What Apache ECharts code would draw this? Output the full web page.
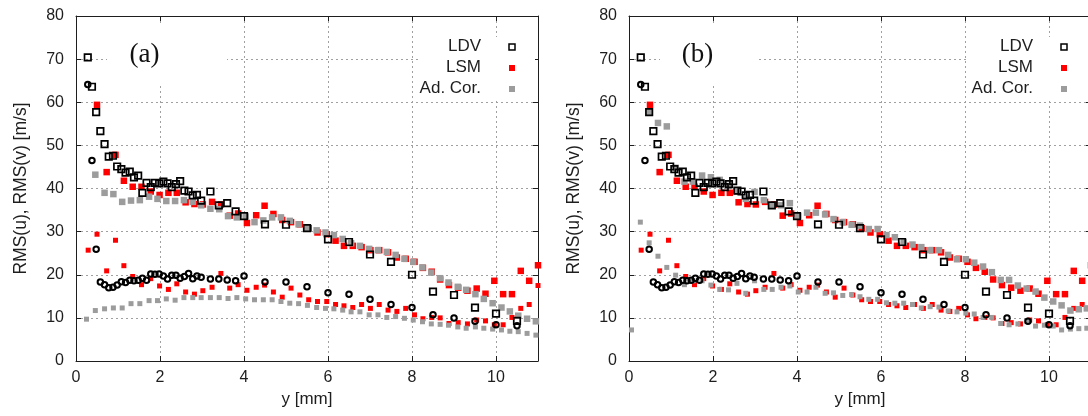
<!DOCTYPE html>
<html>
<head>
<meta charset="utf-8">
<script src="https://cdn.jsdelivr.net/npm/echarts@6/dist/echarts.min.js"></script>
<style>
html, body { margin: 0; padding: 0; background: #fff; }
#chart { width: 1088px; height: 416px; }
</style>
</head>
<body>
<div id="chart"></div>
<script>
// LDV positions y [mm] (same measurement in both panels)
const ldvY = [0.28, 0.38, 0.48, 0.58, 0.68, 0.78, 0.88, 0.98, 1.08, 1.18, 1.28, 1.38, 1.48, 1.58,
  1.68, 1.78, 1.88, 1.98, 2.08, 2.18, 2.28, 2.38, 2.48, 2.58, 2.68, 2.78, 2.88, 2.98,
  3.2, 3.4, 3.6, 3.8, 4.0, 4.5, 5.0, 5.5, 6.0, 6.5, 7.0, 7.5, 8.0, 8.5, 9.0, 9.5, 10.0, 10.5];
const ldvV = [70.4, 63.6, 57.7, 53.3, 50.3, 47.4, 47.6, 45.1, 44.5, 43.7, 43.9, 42.6, 43.0, 39.0,
  41.3, 40.3, 41.3, 41.2, 41.6, 41.2, 40.3, 41.0, 41.7, 39.5, 39.3, 38.4, 38.5, 37.2,
  39.3, 36.1, 36.6, 34.7, 33.6, 31.7, 31.6, 30.8, 28.2, 27.6, 24.7, 23.0, 20.0, 16.1, 15.3, 12.4, 11.0, 9.3];
const ldvU = [64.1, 46.5, 25.9, 18.3, 17.7, 17.0, 17.1, 17.6, 18.4, 18.2, 18.7, 18.6, 18.7, 19.2,
  18.7, 20.2, 20.1, 20.2, 19.7, 19.0, 19.9, 19.9, 19.2, 19.6, 20.3, 19.1, 19.7, 19.4,
  19.0, 19.0, 18.8, 18.6, 19.7, 18.3, 18.3, 17.2, 15.8, 15.5, 14.3, 13.1, 12.4, 10.7, 10.0, 9.2, 8.4, 8.2];

// LSM positions and values (same in both panels)
const lsmY = [0.29, 0.5, 0.73, 0.94, 1.14, 1.35, 1.56, 1.78, 1.99, 2.2, 2.4, 2.61, 2.82, 3.02, 3.24,
  3.45, 3.66, 3.86, 4.07, 4.29, 4.49, 4.7, 4.91, 5.12, 5.33, 5.54, 5.75, 5.97, 6.18, 6.38, 6.59,
  6.8, 7.01, 7.22, 7.43, 7.64, 7.85, 8.06, 8.26, 8.47, 8.67, 8.88, 9.1, 9.32, 9.54, 9.75, 9.96,
  10.17, 10.38, 10.59, 10.79, 11.0];
const lsmV = [null, 59.4, 43.8, 47.8, 41.8, 40.4, 40.4, 39.3, 38.5, 39.0, 39.0, 36.8, 36.4, 36.3, 36.9,
  36.3, 33.7, 34.2, 32.0, 33.8, 36.0, 34.1, 32.7, 32.2, 31.7, 30.8, 29.8, 29.4, 27.9, 26.7, 26.7,
  26.4, 25.7, 25.7, 25.2, 24.0, 23.7, 23.0, 21.6, 20.7, 18.9, 17.6, 17.0, 16.3, 16.8, 15.6, 18.6,
  15.5, 15.5, 20.9, 18.6, 22.2];
const lsmU = [25.7, 29.4, 20.9, 28.0, 22.1, 19.6, 17.7, 19.1, 17.4, 16.6, 17.9, 16.0, 15.5, 16.3, 17.1,
  20.3, 16.9, 17.7, 16.4, 17.1, 17.6, 16.0, 14.8, 16.9, 15.3, 14.2, 13.8, 13.8, 13.1, 12.8, 12.4,
  13.1, 12.2, 13.1, 11.8, 11.5, 12.2, 10.7, 9.8, 10.1, 10.0, 8.7, 8.9, 8.6, 9.5, 9.3, 8.4,
  8.4, 10.1, 12.2, 13.1, 17.5];

// Ad. Cor., panel (a)
const corAY = [0.25, 0.46, 0.68, 0.89, 1.1, 1.31, 1.52, 1.74, 1.94, 2.15, 2.36, 2.57, 2.78, 2.98, 3.2,
  3.41, 3.62, 3.83, 4.04, 4.25, 4.46, 4.67, 4.88, 5.09, 5.3, 5.51, 5.73, 5.94, 6.14, 6.35, 6.55,
  6.76, 6.98, 7.19, 7.4, 7.61, 7.82, 8.03, 8.25, 8.46, 8.67, 8.87, 9.09, 9.29, 9.51, 9.71, 9.92,
  10.13, 10.33, 10.53, 10.74, 10.95];
const corAV = [null, 43.2, 39.0, 38.7, 36.9, 37.2, 37.3, 38.1, 37.6, 37.1, 37.1, 37.3, 36.9, 36.1, 35.3,
  35.2, 33.6, 33.3, 33.5, 32.2, 32.6, 33.3, 33.3, 32.5, 31.7, 30.9, 30.3, 29.8, 29.2, 28.3, 27.3,
  26.7, 26.0, 25.7, 25.3, 24.6, 23.7, 23.0, 21.7, 20.5, 19.2, 18.2, 17.2, 16.5, 15.5, 14.4, 13.4,
  12.4, 11.5, 10.5, 9.8, 9.2];
const corAU = [9.7, 11.7, 12.1, 12.3, 12.3, 13.3, 13.3, 14.0, 14.0, 14.4, 14.1, 14.7, 14.7, 14.7, 14.7,
  14.7, 14.5, 14.7, 14.4, 14.2, 14.2, 14.2, 13.8, 13.4, 13.3, 12.9, 12.4, 12.2, 12.1, 11.8, 11.4,
  11.4, 10.7, 10.7, 10.1, 10.3, 9.9, 9.5, 9.1, 8.6, 8.5, 8.3, 7.9, 7.6, 7.9, 7.6, 7.4,
  7.2, 6.9, 6.8, 6.4, 6.0];

// Ad. Cor., panel (b)
const corBY = [0.06, 0.27, 0.48, 0.69, 0.9, 1.11, 1.32, 1.52, 1.74, 1.95, 2.16, 2.37, 2.57, 2.78, 2.99,
  3.21, 3.41, 3.62, 3.83, 4.03, 4.24, 4.45, 4.67, 4.87, 5.09, 5.3, 5.5, 5.71, 5.92, 6.13, 6.33,
  6.54, 6.75, 6.96, 7.17, 7.38, 7.6, 7.81, 8.02, 8.22, 8.43, 8.64, 8.85, 9.05, 9.26, 9.47, 9.68,
  9.89, 10.1, 10.3, 10.51, 10.71, 10.9];
const corBV = [null, null, 57.8, 55.2, 54.4, 44.8, 41.6, 41.6, 43.0, 42.6, 42.0, 40.6, 39.3, 37.6, 39.2,
  37.3, 36.1, 36.1, 36.6, 33.6, 34.4, 34.4, 34.0, 32.9, 32.2, 31.6, 31.4, 30.6, 30.6, 29.2, 28.7,
  27.6, 27.0, 26.4, 25.7, 25.7, 24.6, 23.6, 23.6, 22.8, 21.9, 20.6, 18.8, 18.8, 17.5, 16.8, 16.1,
  14.7, 13.8, 12.9, 11.7, 12.0, 12.2];
const corBU = [7.2, 32.2, 27.4, 24.3, 21.7, 19.9, 17.7, 18.6, 18.6, 17.6, 16.6, 16.5, 18.0, 15.7, 18.6,
  16.6, 16.6, 17.1, 17.4, 16.0, 16.0, 17.1, 15.7, 15.8, 15.2, 15.4, 14.9, 14.3, 14.3, 13.5, 13.4,
  13.4, 13.1, 12.3, 12.6, 12.5, 11.6, 11.4, 11.1, 10.9, 10.1, 10.1, 8.7, 8.4, 8.6, 9.2, 8.1,
  8.3, 8.1, 7.2, 7.4, 7.5, 7.6];

const legendNames = ['LDV', 'LSM', 'Ad. Cor.'];
const panelLabels = ['(a)', '(b)'];

const RED = '#ff0000';
const GRAY = '#9c9c9c';
const INK = '#1e1e1e';
const FONT = '"Liberation Sans", Arial, sans-serif';

function pairs(xs, ys) {
  const out = [];
  xs.forEach((x, i) => { if (ys[i] != null) out.push([x, ys[i]]); });
  return out;
}

const panelLeft = [76, 629];
const grids = panelLeft.map((l) => ({
  left: l, top: 16, width: 462, height: 345, outerBoundsMode: 'none',
}));

const gridLine = { lineStyle: { color: '#a0a0a0', type: [2, 3], width: 1 } };
const tick = { inside: true, length: 5, lineStyle: { color: INK, width: 1 } };
const frame = { show: true, onZero: false, lineStyle: { color: INK, width: 1 } };

const xAxes = [];
const yAxes = [];
[0, 1].forEach((g) => {
  xAxes.push({
    gridIndex: g, type: 'value', position: 'bottom', min: 0, max: 11, interval: 2,
    name: 'y [mm]', nameLocation: 'middle', nameGap: 29,
    nameTextStyle: { fontFamily: FONT, fontSize: 17, color: INK },
    axisLine: frame, axisTick: tick, splitLine: gridLine,
    axisLabel: { fontFamily: FONT, fontSize: 16, color: INK, margin: 9, showMaxLabel: false },
  });
  xAxes.push({
    gridIndex: g, type: 'value', position: 'top', min: 0, max: 11, interval: 2,
    axisLine: frame, axisTick: tick, splitLine: { show: false }, axisLabel: { show: false },
  });
  yAxes.push({
    gridIndex: g, type: 'value', position: 'left', min: 0, max: 80, interval: 10,
    name: 'RMS(u), RMS(v) [m/s]', nameLocation: 'middle', nameGap: 46,
    nameTextStyle: { fontFamily: FONT, fontSize: 17.5, color: INK },
    axisLine: frame, axisTick: tick, splitLine: gridLine,
    axisLabel: { fontFamily: FONT, fontSize: 16, color: INK, margin: 12 },
  });
  yAxes.push({
    gridIndex: g, type: 'value', position: 'right', min: 0, max: 80, interval: 10,
    axisLine: frame, axisTick: tick, splitLine: { show: false }, axisLabel: { show: false },
  });
});

function dots(name, g, data, size, style, symbol) {
  return {
    name, type: 'scatter', xAxisIndex: g * 2, yAxisIndex: g * 2,
    symbol: symbol || 'rect', symbolSize: size, data, itemStyle: style,
    emphasis: { disabled: true }, silent: true,
  };
}

const series = [];
const panels = [
  { corY: corAY, corV: corAV, corU: corAU },
  { corY: corBY, corV: corBV, corU: corBU },
];
panels.forEach((p, g) => {
  series.push(dots('LSM', g, pairs(lsmY, lsmV), 6.5, { color: RED, opacity: 1 }));
  series.push(dots('LSM', g, pairs(lsmY, lsmU), 5, { color: RED, opacity: 1 }));
  series.push(dots('Ad. Cor.', g, pairs(p.corY, p.corV), 6.5, { color: GRAY, opacity: 1 }));
  series.push(dots('Ad. Cor.', g, pairs(p.corY, p.corU), 5, { color: GRAY, opacity: 1 }));
  series.push(dots('LDV', g, pairs(ldvY, ldvV), 6.5, {
    color: 'rgba(0,0,0,0)', borderColor: '#000', borderWidth: 1.7, opacity: 1 }));
  series.push(dots('LDV', g, pairs(ldvY, ldvU), 5.5, {
    color: 'rgba(0,0,0,0)', borderColor: '#000', borderWidth: 2, opacity: 1 }, 'circle'));
});

// legend and panel labels drawn with white boxes (gnuplot style)
const graphic = [];
const labelBoxes = [[107, 120], [660, 98]];
const legendBoxes = [[420, 115], [966, 122]];
const legendTextRight = [481, 1033];
const legendIconX = [512, 1064];
const iconStyles = [
  { fill: '#fff', stroke: '#000', lineWidth: 1.5 },
  { fill: RED },
  { fill: GRAY },
];
[0, 1].forEach((g) => {
  graphic.push({ type: 'rect', z: 1, silent: true,
    shape: { x: labelBoxes[g][0], y: 24, width: labelBoxes[g][1], height: 62 }, style: { fill: '#fff' } });
  graphic.push({ type: 'rect', z: 1, silent: true,
    shape: { x: legendBoxes[g][0], y: 37, width: legendBoxes[g][1], height: 62 }, style: { fill: '#fff' } });
  graphic.push({ type: 'text', z: 10, silent: true, x: g === 0 ? 144.5 : 697.5, y: 55,
    style: { text: panelLabels[g], font: '27px "Liberation Serif", "Times New Roman", serif',
      fill: '#111', align: 'center', verticalAlign: 'middle' } });
  legendNames.forEach((n, i) => {
    graphic.push({ type: 'text', z: 10, silent: true, x: legendTextRight[g], y: 46 + i * 21,
      style: { text: n, font: '17px ' + FONT, fill: INK, align: 'right', verticalAlign: 'middle' } });
    graphic.push({ type: 'rect', z: 10, silent: true,
      shape: { x: legendIconX[g] - 3, y: 47 + i * 21 - 3, width: 6, height: 6 }, style: iconStyles[i] });
  });
});

const chart = echarts.init(document.getElementById('chart'));
chart.setOption({
  animation: false,
  backgroundColor: '#fff',
  textStyle: { fontFamily: FONT },
  grid: grids,
  xAxis: xAxes,
  yAxis: yAxes,
  series,
  graphic,
});
</script>
</body>
</html>
